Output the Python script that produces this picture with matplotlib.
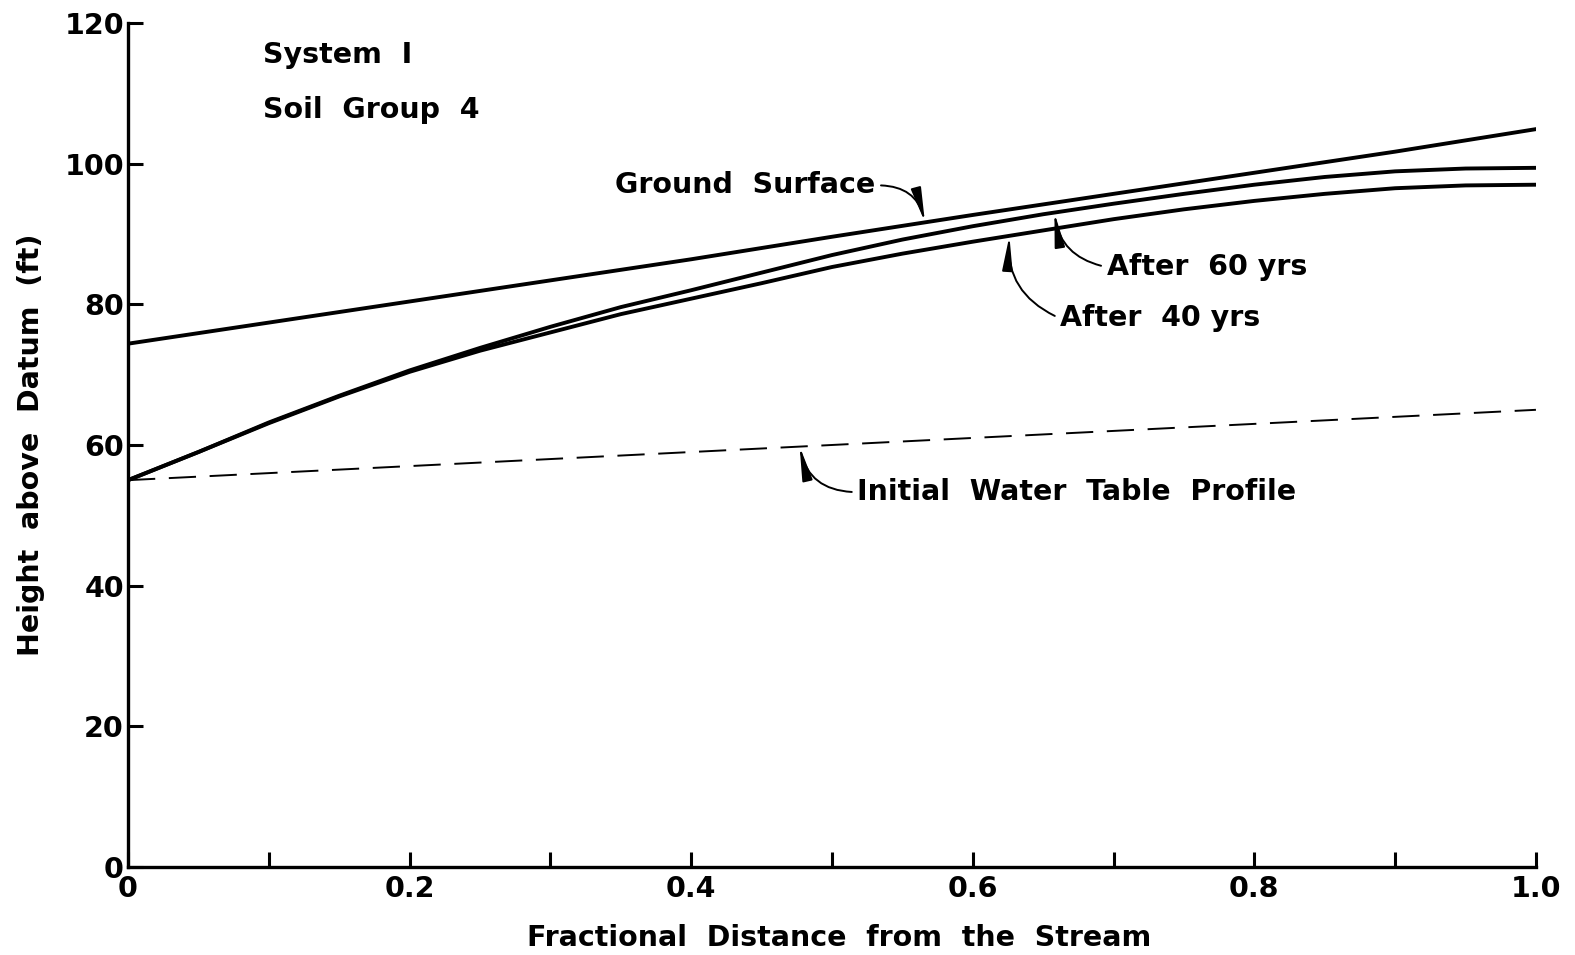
import matplotlib.pyplot as plt

# fractional distance from the stream
x_curve = [0.0, 0.05, 0.1, 0.15, 0.2, 0.25, 0.3, 0.35, 0.4, 0.45, 0.5,
           0.55, 0.6, 0.65, 0.7, 0.75, 0.8, 0.85, 0.9, 0.95, 1.0]
after_60 = [55.0, 59.0, 63.2, 67.0, 70.6, 73.8, 76.8, 79.6, 82.0, 84.5, 87.0,
            89.2, 91.1, 92.8, 94.3, 95.7, 97.0, 98.1, 98.9, 99.3, 99.4]
after_40 = [55.0, 59.0, 63.1, 66.9, 70.4, 73.4, 76.0, 78.6, 80.8, 83.0, 85.3,
            87.2, 88.9, 90.5, 92.1, 93.5, 94.7, 95.7, 96.5, 96.9, 97.0]

x_ground = [0.0, 0.1, 0.2, 0.3, 0.4, 0.5, 0.6, 0.7, 0.8, 0.9, 1.0]
ground = [74.4, 77.4, 80.4, 83.4, 86.4, 89.6, 92.7, 95.7, 98.7, 101.7, 104.9]

x_initial = [0.0, 1.0]
initial = [55.0, 65.0]

x_ticks = [0.0, 0.1, 0.2, 0.3, 0.4, 0.5, 0.6, 0.7, 0.8, 0.9, 1.0]
x_labels = ["0", "", "0.2", "", "0.4", "", "0.6", "", "0.8", "", "1.0"]
y_ticks = [0, 20, 40, 60, 80, 100, 120]

plt.rcParams['font.family'] = 'DejaVu Sans'
plt.rcParams['font.weight'] = 'bold'
plt.rcParams['axes.labelweight'] = 'bold'
fs = 20.5

fig = plt.figure(figsize=(15.75, 9.55), dpi=100)
ax = fig.add_axes([0.0813, 0.0921, 0.8939, 0.8839])

ax.plot(x_ground, ground, color="black", lw=2.8)
ax.plot(x_curve, after_60, color="black", lw=2.8)
ax.plot(x_curve, after_40, color="black", lw=2.8)
ax.plot(x_initial, initial, color="black", lw=1.4, dashes=(14, 7))

ax.set_xlim(0, 1.0)
ax.set_ylim(0, 120)
ax.set_xticks(x_ticks)
ax.set_xticklabels(x_labels)
ax.set_yticks(y_ticks)
for s in ["top", "right"]:
    ax.spines[s].set_visible(False)
for s in ["left", "bottom"]:
    ax.spines[s].set_linewidth(2.4)
ax.tick_params(direction="in", length=11, width=2.2, labelsize=fs)
ax.tick_params(axis="x", pad=6)
ax.tick_params(axis="y", pad=3)

ax.set_xlabel("Fractional  Distance  from  the  Stream", fontsize=fs)
ax.xaxis.set_label_coords(0.505, -0.068)
ax.set_ylabel("Height  above  Datum  (ft)", fontsize=fs, labelpad=14)

ax.text(0.096, 115.4, "System  I", fontsize=fs, va="center")
ax.text(0.096, 107.6, "Soil  Group  4", fontsize=fs, va="center")

arrow = dict(arrowstyle="-|>,head_length=1.0,head_width=0.15", color="black",
             lw=1.4, shrinkA=2, shrinkB=0)

ax.annotate("Ground  Surface", xy=(0.566, 91.7), xytext=(0.346, 96.9),
            fontsize=fs, va="center",
            arrowprops=dict(arrow, connectionstyle="arc3,rad=-0.4",
                            relpos=(1.0, 0.5)))
ax.annotate("After  60 yrs", xy=(0.658, 93.0), xytext=(0.695, 85.3),
            fontsize=fs, va="center",
            arrowprops=dict(arrow, connectionstyle="arc3,rad=-0.35",
                            relpos=(0.0, 0.5)))
ax.annotate("After  40 yrs", xy=(0.626, 89.7), xytext=(0.662, 78.0),
            fontsize=fs, va="center",
            arrowprops=dict(arrow, connectionstyle="arc3,rad=-0.35",
                            relpos=(0.0, 0.5)))
ax.annotate("Initial  Water  Table  Profile", xy=(0.477, 59.8), xytext=(0.518, 53.3),
            fontsize=fs, va="center",
            arrowprops=dict(arrow, connectionstyle="arc3,rad=-0.4",
                            relpos=(0.0, 0.5)))

plt.savefig("out.png", dpi=100)
